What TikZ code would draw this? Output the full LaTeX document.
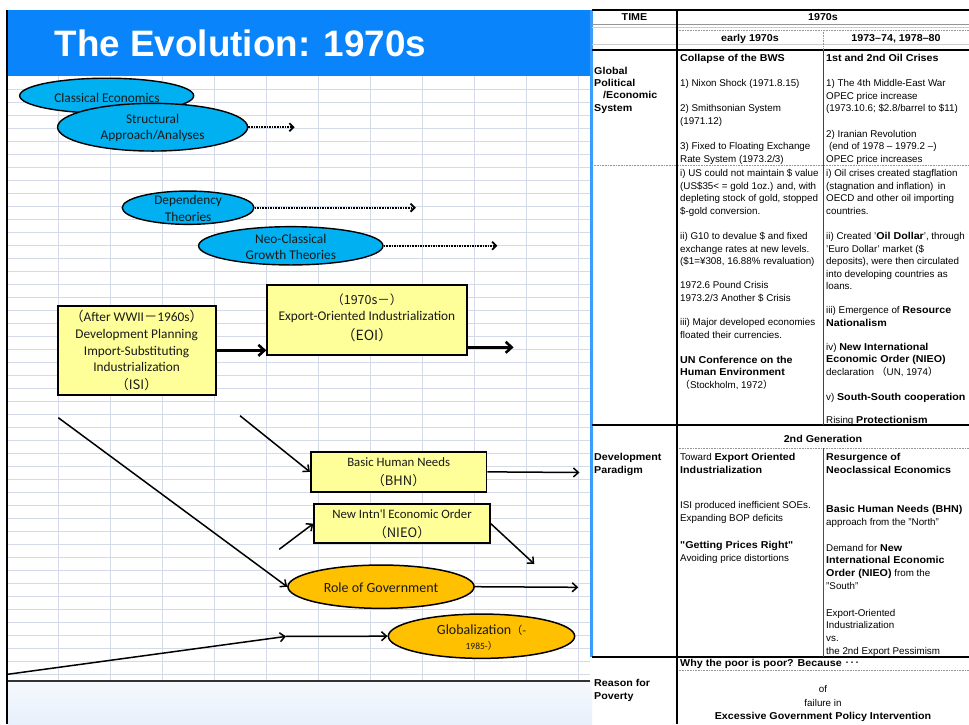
\documentclass[tikz,border=0pt]{standalone}
\usepackage{fontspec}
\setmainfont{Liberation Sans}
\newfontfamily\calf{Carlito}
\newfontfamily\jpf{Noto Sans CJK JP}
\newfontfamily\bw{Liberation Sans}[FakeStretch=1.07]
\newcommand\bt[1]{{\bw\bfseries\fontsize{10}{12}\selectfont #1}}
\usetikzlibrary{shapes.geometric,arrows.meta}
\definecolor{hdrblue}{RGB}{10,132,250}
\definecolor{gridc}{RGB}{212,218,232}
\definecolor{cyanf}{RGB}{0,176,240}
\definecolor{yelf}{RGB}{255,255,153}
\definecolor{orf}{RGB}{255,192,0}
\definecolor{bandtop}{RGB}{246,249,253}
\definecolor{bandbot}{RGB}{232,240,251}
\definecolor{tline}{RGB}{150,150,150}
\definecolor{tlight}{RGB}{205,205,205}
\tikzset{
 cyanell/.style={ellipse, draw=black, line width=1.4pt, fill=cyanf, inner sep=0pt},
 orell/.style={ellipse, draw=black, line width=1.5pt, fill=orf, inner sep=0pt},
 ybox/.style={rectangle, draw=black, line width=1.8pt, fill=yelf, inner sep=0pt},
 ltxt/.style={inner sep=0pt, align=center, text=black!90, font=\calf\fontsize{13.3}{16.7}\selectfont},
 darr/.style={line width=1.8pt, dash pattern=on 1.6pt off 1pt, -{Straight Barb[length=4pt,width=8pt]}},
 thkarr/.style={line width=2.6pt, -{Straight Barb[length=6pt,width=11pt]}},
 arr/.style={line width=1.5pt, -{Straight Barb[length=5pt,width=9pt]}},
 tt/.style={anchor=base west, inner sep=0pt, font=\fontsize{9.8}{12}\selectfont},
 tc/.style={anchor=base, inner sep=0pt, font=\fontsize{9.8}{12}\selectfont},
 tb/.style={font=\bw\bfseries\fontsize{10}{12}\selectfont},
 tbl/.style={line width=1.4pt, black},
 tdot/.style={line width=0.8pt, tline, dash pattern=on 0.8pt off 0.8pt},
}
\begin{document}
\begin{tikzpicture}[x=1pt,y=-1pt]
\useasboundingbox (0,0) rectangle (969,724);
\fill[white] (0,0) rectangle (969,724);
% ---------- slide ----------
\fill[hdrblue] (7,10) rectangle (592,76);
\foreach \k in {0,...,45} \draw[gridc, line width=0.9pt] (7,{89+13.02*\k}) -- (590,{89+13.02*\k});
\foreach \k in {0,...,10} \draw[gridc, line width=0.9pt] ({58.3+52.04*\k},76) -- ({58.3+52.04*\k},681);
\shade[top color=bandtop, bottom color=bandbot] (7,681) rectangle (592,724);
\draw[line width=1.1pt, black!80] (7,681) -- (590,681);
\node[anchor=base west, inner sep=0pt, text=white, font=\bfseries\fontsize{36.8}{40}\selectfont] (title) at (54.6,56.7) {The Evolution: 1970s};

% ellipses
\node[cyanell, minimum width=174pt, minimum height=35pt] (ce) at (106.7,95.7) {};
\node[ltxt] (cet) at (106.9,97.7) {Classical Economics};
\node[cyanell, minimum width=190pt, minimum height=47.7pt] (sa) at (152.6,127.2) {};
\node[ltxt] (sat) at (152.6,127.9) {Structural\\Approach/Analyses};
\coordinate (saend) at (294.6,127.2);
\draw[darr] (sa.east) -- (saend);

\node[cyanell, minimum width=131.7pt, minimum height=33.3pt] (dep) at (188.1,207.7) {};
\node[ltxt] (dept) at (188.1,208.6) {Dependency\\Theories};
\coordinate (depend) at (415.8,207.7);
\draw[darr] (dep.east) -- (depend);

\node[cyanell, minimum width=184.4pt, minimum height=38.3pt] (neo) at (290.8,245.8) {};
\node[ltxt] (neot) at (290.8,247) {Neo-Classical\\Growth Theories};
\coordinate (neoend) at (497.4,245.8);
\draw[darr] (neo.east) -- (neoend);

% yellow boxes
\node[ybox, minimum width=158pt, minimum height=89.3pt] (isi) at (136.6,350.35) {};
\node[ltxt] (isit) at (136.6,350.5) {{\jpf （}After WWII{\jpf －}1960s{\jpf ）}\\Development Planning\\Import-Substituting\\Industrialization\\[1pt]{\jpf\fontsize{13}{16}\selectfont （ISI）}};
\node[ybox, minimum width=199.4pt, minimum height=70pt] (eoi) at (366.9,320) {};
\node[ltxt] (eoit) at (366.9,317.8) {{\jpf\fontsize{12.5}{16}\selectfont （1970s－）}\\Export-Oriented Industrialization\\[3pt]{\jpf\fontsize{14}{16}\selectfont （EOI）}};
\draw[thkarr] (isi.east) -- (isi.east -| eoi.west);
\coordinate (eoiend) at (513.6,347.3);
\draw[thkarr] (eoiend -| eoi.east) -- (eoiend);

\node[ybox, minimum width=175.7pt, minimum height=39.7pt] (bhn) at (398.65,471.85) {};
\node[ltxt, font=\calf\fontsize{12.8}{19}\selectfont] (bhnt) at (398.65,472.5) {Basic Human Needs\\{\jpf\fontsize{13}{16}\selectfont （BHN）}};
\coordinate (d2s) at (240,415.7);
\draw[arr] (d2s) -- (bhn.west);
\coordinate (bhnend) at (579.5,472.5);
\draw[arr] (bhn.east) -- (bhnend);

\node[ybox, minimum width=175.7pt, minimum height=39.3pt] (nieo) at (402.05,523.65) {};
\node[ltxt, font=\calf\fontsize{12.8}{19}\selectfont] (nieot) at (402.05,524.2) {New Intn'l Economic Order\\{\jpf\fontsize{13}{16}\selectfont （NIEO）}};
\coordinate (nieoin) at (279.2,549.3);
\draw[arr] (nieoin) -- (nieo.west);
\coordinate (nieoout) at (534.3,564);
\draw[arr] (nieo.east) -- (nieoout);

% orange ellipses
\node[orell, minimum width=186.2pt, minimum height=43.3pt] (rog) at (381,586.7) {};
\node[ltxt, font=\calf\fontsize{14}{16}\selectfont] (rogt) at (381,587.3) {Role of Government};
\coordinate (d1s) at (58.3,417.7);
\draw[arr] (d1s) -- (rog.west);
\coordinate (rogend) at (578.3,587.3);
\draw[arr] (rog.east) -- (rogend);

\node[orell, minimum width=186.3pt, minimum height=44.3pt] (glob) at (481.5,636.2) {};
\node[ltxt, font=\calf\fontsize{14}{16}\selectfont] (globt) at (481.5,637.5) {Globalization{\jpf\fontsize{11}{12}\selectfont （-}\\[-1pt]{\calf\fontsize{9.5}{11}\selectfont 1985-{\jpf ）}}};
\coordinate (gls) at (7.5,674.3);
\coordinate (glm) at (286,636.4);
\draw[arr] (gls) -- (glm);
\draw[arr] (glm) -- (glob.west);

% slide borders
\draw[line width=1.5pt] (7,10) -- (7,724);

% ---------- table ----------
\fill[white] (592.5,10) rectangle (969,724);
\fill[hdrblue!80] (590,10) rectangle (592.5,657);
\draw[tbl] (592,10) -- (969,10);
\draw[tline, line width=0.8pt] (592,24) -- (969,24);
\draw[tlight, line width=0.8pt] (592,27) -- (969,27);
\draw[tdot] (677,30) -- (969,30);
\draw[tlight, line width=0.8pt] (592,44) -- (969,44);
\draw[tbl] (592,50) -- (969,50);
\draw[tdot] (592,165) -- (969,165);
\draw[tbl] (592,425) -- (969,425);
\draw[tdot] (677,448) -- (969,448);
\draw[tbl] (592,657) -- (969,657);
\draw[tdot] (677,670) -- (969,670);
\draw[line width=1.3pt] (677,10) -- (677,724);
\draw[tdot] (823,30) -- (823,50);
\draw[line width=1pt, black!75] (823,50) -- (823,425);
\draw[line width=1pt, black!70] (823,448) -- (823,657);

% header
\node[tc, tb] (hT) at (634.5,20.8) {TIME};
\node[tc, tb] (h70) at (823,20.8) {1970s};
\node[tc, tb] (he) at (750,41) {early 1970s};
\node[tc, tb] (hl) at (896,41) {1973–74, 1978–80};

% col1
\node[tt, tb] (a1) at (594,74.2) {Global};
\node[tt, tb] (a2) at (594,86.5) {Political};
\node[tt, tb] (a3) at (603,98.8) {/Economic};
\node[tt, tb] (a4) at (594,111.1) {System};
\node[tt, tb] (a5) at (594,460.8) {Development};
\node[tt, tb] (a6) at (594,473.1) {Paradigm};
\node[tt, tb] (a7) at (594,686) {Reason for};
\node[tt, tb] (a8) at (594,699) {Poverty};

% row 1 col2
\node[tt, tb] (b1) at (680,61) {Collapse of the BWS};
\node[tt] (b2) at (680,86.5) {1) Nixon Shock (1971.8.15)};
\node[tt] (b3) at (680,111.8) {2) Smithsonian System};
\node[tt] (b4) at (680,124.4) {(1971.12)};
\node[tt] (b5) at (680,149.6) {3) Fixed to Floating Exchange};
\node[tt] (b6) at (680,162.2) {Rate System (1973.2/3)};
% row 1 col3
\node[tt, tb] (c1) at (826,61) {1st and 2nd Oil Crises};
\node[tt] (c2) at (826,86.5) {1) The 4th Middle-East War};
\node[tt] (c3) at (826,99.1) {OPEC price increase};
\node[tt] (c4) at (826,111.7) {(1973.10.6; \$2.8/barrel to \$11)};
\node[tt] (c5) at (826,137.3) {2) Iranian Revolution};
\node[tt] (c6) at (829,149.9) {(end of 1978 – 1979.2 –)};
\node[tt] (c7) at (826,162.5) {OPEC price increases};

% row 2 col2
\node[tt] (d1) at (680,176.5) {i) US could not maintain \$ value};
\node[tt] (d2) at (680,189.1) {(US\$35< = gold 1oz.) and, with};
\node[tt] (d3) at (680,201.7) {depleting stock of gold, stopped};
\node[tt] (d4) at (680,214.3) {\$-gold conversion.};
\node[tt] (d5) at (680,239.5) {ii) G10 to devalue \$ and fixed};
\node[tt] (d6) at (680,252.1) {exchange rates at new levels.};
\node[tt] (d7) at (680,264.7) {(\$1=¥308, 16.88\% revaluation)};
\node[tt] (d8) at (680,288.5) {1972.6 Pound Crisis};
\node[tt] (d9) at (680,301) {1973.2/3 Another \$ Crisis};
\node[tt] (d10) at (680,325.8) {iii) Major developed economies};
\node[tt] (d11) at (680,338.4) {floated their currencies.};
\node[tt, tb] (d12) at (680,363) {UN Conference on the};
\node[tt, tb] (d13) at (680,375.6) {Human Environment};
\node[tt] (d14) at (680,388.2) {{\jpf （}Stockholm, 1972{\jpf ）}};
% row 2 col3
\node[tt] (e1) at (826,176.5) {i) Oil crises created stagflation};
\node[tt] (e2) at (826,189.1) {(stagnation and inflation)\, in};
\node[tt] (e3) at (826,201.7) {OECD and other oil importing};
\node[tt] (e4) at (826,214.3) {countries.};
\node[tt] (e5) at (826,239.5) {ii) Created '\bt{Oil Dollar}', through};
\node[tt] (e6) at (826,252.1) {'Euro Dollar' market (\$};
\node[tt] (e7) at (826,264.7) {deposits), were then circulated};
\node[tt] (e8) at (826,277.3) {into developing countries as};
\node[tt] (e9) at (826,289.9) {loans.};
\node[tt] (e10) at (826,313.5) {iii) Emergence of \bt{Resource}};
\node[tt, tb] (e11) at (826,326.1) {Nationalism};
\node[tt] (e12) at (826,350.2) {iv) \bt{New International}};
\node[tt, tb] (e13) at (826,362.8) {Economic Order (NIEO)};
\node[tt] (e14) at (826,375.4) {declaration {\jpf （}UN, 1974{\jpf ）}};
\node[tt] (e15) at (826,400.2) {v) \bt{South-South cooperation}};
\node[tt] (e16) at (826,423.2) {Rising \bt{Protectionism}};

% 2nd generation
\node[tc, tb] (g0) at (823,442.5) {2nd Generation};
\node[tt] (f1) at (680,460.8) {Toward \bt{Export Oriented}};
\node[tt, tb] (f2) at (680,473.1) {Industrialization};
\node[tt] (f3) at (680,508.5) {ISI produced inefficient SOEs.};
\node[tt] (f4) at (680,521.3) {Expanding BOP deficits};
\node[tt, tb] (f5) at (680,548.5) {"Getting Prices Right"};
\node[tt] (f6) at (680,561.3) {Avoiding price distortions};

\node[tt, tb] (k1) at (826,460.8) {Resurgence of};
\node[tt, tb] (k2) at (826,473.1) {Neoclassical Economics};
\node[tt, tb] (k3) at (826,512.5) {Basic Human Needs (BHN)};
\node[tt] (k4) at (826,525.2) {approach from the "North"};
\node[tt] (k5) at (826,551) {Demand for \bt{New}};
\node[tt, tb] (k6) at (826,563.7) {International Economic};
\node[tt] (k7) at (826,576.4) {\bt{Order (NIEO)} from the};
\node[tt] (k8) at (826,589.1) {"South"};
\node[tt] (k9) at (826,616.2) {Export-Oriented};
\node[tt] (k10) at (826,628.9) {Industrialization};
\node[tt] (k11) at (826,641.6) {vs.};
\node[tt] (k12) at (826,654.3) {the 2nd Export Pessimism};

% last rows
\node[tt, tb] (m1) at (680,666.5) {Why the poor is poor? Because {\jpf\mdseries ･･･}};
\node[tc] (m2) at (823,692.8) {of};
\node[tc] (m3) at (823,706.3) {failure in};
\node[tc, tb] (m4) at (823,719.6) {Excessive Government Policy Intervention};
\end{tikzpicture}
\end{document}
